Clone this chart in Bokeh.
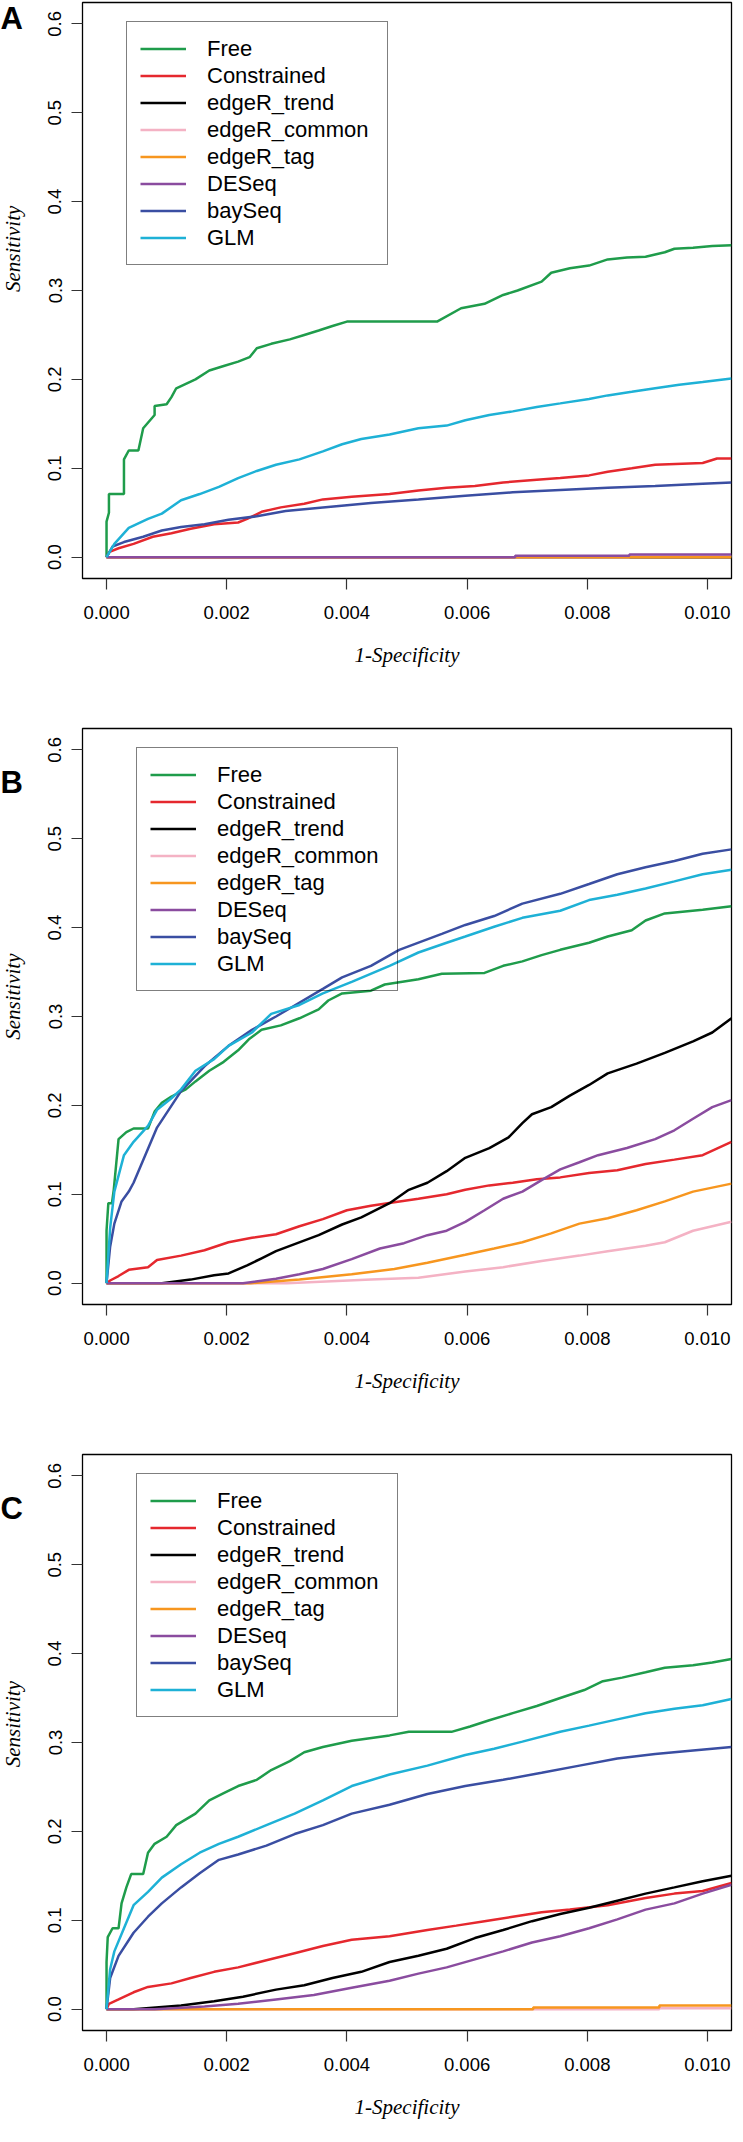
import math
from bokeh.plotting import figure
from bokeh.models import (Range1d, FixedTicker, PrintfTickFormatter, Legend,
                          LegendItem, ColumnDataSource)
from bokeh.core.properties import value
from bokeh.layouts import column, row
from bokeh.embed import file_html
from bokeh.resources import INLINE

# ---------------- data ----------------
X_TICKS = [0.0, 0.002, 0.004, 0.006, 0.008, 0.010]
Y_TICKS = [0.0, 0.1, 0.2, 0.3, 0.4, 0.5, 0.6]
SERIES = ["Free", "Constrained", "edgeR_trend", "edgeR_common",
          "edgeR_tag", "DESeq", "baySeq", "GLM"]
COLORS = ["#1f9c4b", "#e5282e", "#000000", "#f4b2c4",
          "#f7961f", "#8a4c9f", "#3a4ea2", "#1eb1d6"]
PANEL_LETTERS = ["A", "B", "C"]
X_TITLE = "1-Specificity"
Y_TITLE = "Sensitivity"

# Panel A
A_FREE_X = [0, 0, 0.00004, 0.00004, 0.00029, 0.00029, 0.00037, 0.00053, 0.00061, 0.0008,
            0.0008, 0.001, 0.00108, 0.00116, 0.00148, 0.00171, 0.00195, 0.00219, 0.00238, 0.0025,
            0.00274, 0.00305, 0.00329, 0.00353, 0.00376, 0.004, 0.0055, 0.0059, 0.00629, 0.0066,
            0.00684, 0.00724, 0.0074, 0.00771, 0.00803, 0.00834, 0.00866, 0.00897, 0.00929, 0.00945,
            0.00976, 0.01008, 0.0104]
A_FREE_Y = [0, 0.04, 0.05, 0.071, 0.071, 0.11, 0.12, 0.12, 0.145, 0.16,
            0.17, 0.172, 0.18, 0.19, 0.20, 0.21, 0.215, 0.22, 0.225, 0.235,
            0.24, 0.245, 0.25, 0.255, 0.26, 0.265, 0.265, 0.28, 0.285, 0.295,
            0.30, 0.31, 0.32, 0.325, 0.328, 0.335, 0.337, 0.338, 0.343, 0.347,
            0.348, 0.35, 0.351]
A_CON_X = [0, 0.00005, 0.0002, 0.00045, 0.00077, 0.00108, 0.0014, 0.00179, 0.00219, 0.00234,
           0.00258, 0.0029, 0.00329, 0.0036, 0.00408, 0.00471, 0.00519, 0.00566, 0.00613, 0.0066,
           0.00716, 0.00755, 0.00803, 0.00834, 0.00874, 0.00913, 0.00992, 0.01016, 0.0104]
A_CON_Y = [0, 0.006, 0.01, 0.015, 0.023, 0.027, 0.032, 0.037, 0.039, 0.043,
           0.051, 0.056, 0.06, 0.065, 0.068, 0.071, 0.075, 0.078, 0.08, 0.084,
           0.087, 0.089, 0.092, 0.096, 0.1, 0.104, 0.106, 0.111, 0.111]
A_TREND_X = [0, 0.0104]
A_TREND_Y = [0, 0]
A_COM_X = [0, 0.0087, 0.0087, 0.0104]
A_COM_Y = [0, 0, 0.001, 0.001]
A_TAG_X = [0, 0.0104]
A_TAG_Y = [0, 0]
A_DES_X = [0, 0.0068, 0.0068, 0.0087, 0.0087, 0.0104]
A_DES_Y = [0, 0, 0.0015, 0.0015, 0.003, 0.003]
A_BAY_X = [0, 0.0001, 0.00029, 0.00061, 0.00092, 0.00124, 0.00163, 0.00203, 0.0025, 0.00298,
           0.0036, 0.0044, 0.00519, 0.00597, 0.00676, 0.00755, 0.00834, 0.00913, 0.00992, 0.0104]
A_BAY_Y = [0, 0.012, 0.017, 0.023, 0.03, 0.034, 0.037, 0.042, 0.046, 0.052,
           0.056, 0.061, 0.065, 0.069, 0.073, 0.0755, 0.078, 0.08, 0.0827, 0.084]
A_GLM_X = [0, 0.00013, 0.00037, 0.00069, 0.00092, 0.00124, 0.00155, 0.00187, 0.00219, 0.0025,
           0.00282, 0.00321, 0.0036, 0.00392, 0.00424, 0.00471, 0.00519, 0.00566, 0.00597, 0.00637,
           0.00676, 0.00716, 0.00755, 0.00803, 0.00834, 0.00874, 0.00913, 0.00953, 0.00992, 0.0104]
A_GLM_Y = [0, 0.015, 0.033, 0.043, 0.049, 0.064, 0.071, 0.079, 0.089, 0.097,
           0.104, 0.11, 0.119, 0.127, 0.133, 0.138, 0.145, 0.148, 0.154, 0.16,
           0.164, 0.169, 0.173, 0.178, 0.182, 0.186, 0.19, 0.194, 0.197, 0.201]

# Panel B
B_FREE_X = [0, 0, 0.00003, 0.00009, 0.00012, 0.0002, 0.00033, 0.00045, 0.00069, 0.0008,
            0.00092, 0.00108, 0.00132, 0.00148, 0.00171, 0.00195, 0.00219, 0.00238, 0.00258, 0.0029,
            0.00321, 0.00353, 0.00369, 0.00392, 0.0044, 0.00463, 0.00519, 0.00558, 0.00629, 0.0066,
            0.00692, 0.00724, 0.00755, 0.00803, 0.00834, 0.00874, 0.00897, 0.00929, 0.00992, 0.0104]
B_FREE_Y = [0, 0.059, 0.09, 0.09, 0.105, 0.162, 0.17, 0.174, 0.174, 0.193,
            0.203, 0.21, 0.218, 0.227, 0.239, 0.249, 0.262, 0.275, 0.285, 0.29,
            0.298, 0.308, 0.318, 0.326, 0.329, 0.336, 0.342, 0.348, 0.349, 0.357,
            0.362, 0.369, 0.375, 0.383, 0.39, 0.397, 0.408, 0.416, 0.42, 0.424]
B_CON_X = [0, 0.00006, 0.0002, 0.00037, 0.00069, 0.00084, 0.00124, 0.00163, 0.00203, 0.00242,
           0.00282, 0.00321, 0.0036, 0.004, 0.0044, 0.00479, 0.00519, 0.00566, 0.00597, 0.00637,
           0.00676, 0.00716, 0.00755, 0.00803, 0.0085, 0.00897, 0.00945, 0.00992, 0.0104]
B_CON_Y = [0, 0.003, 0.008, 0.015, 0.018, 0.026, 0.031, 0.037, 0.046, 0.051,
           0.055, 0.064, 0.072, 0.082, 0.087, 0.091, 0.095, 0.1, 0.105, 0.11,
           0.113, 0.117, 0.119, 0.124, 0.127, 0.134, 0.139, 0.144, 0.159]
B_TREND_X = [0, 0.00092, 0.0014, 0.00179, 0.00203, 0.00234, 0.00258, 0.00282, 0.00313, 0.00353,
             0.00392, 0.00424, 0.00471, 0.00503, 0.00534, 0.00566, 0.00597, 0.00637, 0.00669, 0.00692,
             0.00708, 0.0074, 0.00771, 0.00803, 0.00834, 0.00882, 0.00929, 0.00976, 0.01008, 0.0104]
B_TREND_Y = [0, 0, 0.004, 0.009, 0.011, 0.02, 0.028, 0.036, 0.044, 0.054,
             0.066, 0.074, 0.09, 0.105, 0.113, 0.126, 0.141, 0.152, 0.164, 0.18,
             0.19, 0.198, 0.211, 0.223, 0.236, 0.247, 0.259, 0.272, 0.282, 0.298]
B_COM_X = [0, 0.003, 0.0044, 0.00519, 0.00597, 0.0066, 0.00724, 0.00787, 0.00834, 0.00897,
           0.00929, 0.00976, 0.01008, 0.0104]
B_COM_Y = [0, 0, 0.004, 0.006, 0.013, 0.018, 0.025, 0.031, 0.036, 0.042,
           0.046, 0.059, 0.064, 0.069]
B_TAG_X = [0, 0.0024, 0.00321, 0.00408, 0.00479, 0.00534, 0.00597, 0.00645, 0.00692, 0.0074,
           0.00787, 0.00834, 0.00882, 0.00929, 0.00976, 0.0104]
B_TAG_Y = [0, 0, 0.004, 0.01, 0.016, 0.023, 0.032, 0.039, 0.046, 0.056,
           0.067, 0.073, 0.082, 0.092, 0.103, 0.112]
B_DES_X = [0, 0.00227, 0.00282, 0.00321, 0.0036, 0.00408, 0.00455, 0.00495, 0.00534, 0.00566,
           0.00597, 0.00629, 0.0066, 0.00692, 0.00724, 0.00755, 0.00787, 0.00818, 0.00866, 0.00913,
           0.00945, 0.00976, 0.01008, 0.0104]
B_DES_Y = [0, 0, 0.005, 0.01, 0.016, 0.027, 0.039, 0.045, 0.054, 0.059,
           0.069, 0.082, 0.095, 0.103, 0.116, 0.128, 0.136, 0.144, 0.152, 0.162,
           0.172, 0.185, 0.198, 0.206]
B_BAY_X = [0, 0.00006, 0.00013, 0.00025, 0.00037, 0.00045, 0.00084, 0.00124, 0.00163, 0.00203,
           0.00242, 0.00282, 0.0036, 0.00392, 0.0044, 0.00487, 0.00558, 0.00597, 0.00645, 0.00692,
           0.00755, 0.00803, 0.0085, 0.00897, 0.00945, 0.00992, 0.0104]
B_BAY_Y = [0, 0.041, 0.067, 0.092, 0.103, 0.113, 0.175, 0.216, 0.244, 0.267,
           0.285, 0.30, 0.331, 0.344, 0.357, 0.375, 0.393, 0.403, 0.413, 0.427,
           0.438, 0.449, 0.46, 0.468, 0.475, 0.483, 0.488]
B_GLM_X = [0, 0.00006, 0.00013, 0.00029, 0.00045, 0.00069, 0.00084, 0.00108, 0.00124, 0.00148,
           0.00179, 0.00203, 0.00242, 0.00274, 0.00321, 0.0036, 0.00408, 0.00471, 0.00519, 0.00566,
           0.00597, 0.00645, 0.00692, 0.00755, 0.00803, 0.0085, 0.00897, 0.00945, 0.00992, 0.0104]
B_GLM_Y = [0, 0.062, 0.103, 0.144, 0.159, 0.177, 0.195, 0.208, 0.218, 0.239,
           0.252, 0.267, 0.282, 0.303, 0.313, 0.326, 0.339, 0.357, 0.372, 0.383,
           0.39, 0.401, 0.411, 0.419, 0.431, 0.437, 0.444, 0.452, 0.46, 0.465]

# Panel C
C_FREE_X = [0, 0, 0.00002, 0.0001, 0.0002, 0.00025, 0.00033, 0.00041, 0.00061, 0.00069,
            0.0008, 0.001, 0.00116, 0.00148, 0.00171, 0.00195, 0.00219, 0.0025, 0.00274, 0.00305,
            0.00329, 0.0036, 0.00408, 0.00471, 0.00503, 0.00574, 0.00605, 0.00637, 0.00676, 0.00716,
            0.00755, 0.00795, 0.00826, 0.00858, 0.00897, 0.00929, 0.00976, 0.01008, 0.0104]
C_FREE_Y = [0, 0.053, 0.081, 0.091, 0.091, 0.119, 0.137, 0.152, 0.152, 0.176,
            0.186, 0.194, 0.207, 0.22, 0.235, 0.243, 0.251, 0.258, 0.269, 0.279,
            0.289, 0.295, 0.302, 0.308, 0.312, 0.312, 0.318, 0.325, 0.333, 0.341,
            0.35, 0.359, 0.369, 0.373, 0.379, 0.384, 0.387, 0.39, 0.394]
C_CON_X = [0, 0.00004, 0.0002, 0.00045, 0.00069, 0.00108, 0.0014, 0.00179, 0.00219, 0.00266,
           0.00313, 0.0036, 0.00408, 0.00471, 0.00534, 0.00582, 0.00629, 0.00676, 0.00724, 0.00771,
           0.00834, 0.00897, 0.00945, 0.00992, 0.0104]
C_CON_Y = [0, 0.006, 0.011, 0.019, 0.025, 0.029, 0.035, 0.042, 0.047, 0.055,
           0.063, 0.071, 0.078, 0.082, 0.089, 0.094, 0.099, 0.104, 0.109, 0.112,
           0.117, 0.125, 0.13, 0.133, 0.142]
C_TREND_X = [0, 0.00045, 0.00124, 0.00179, 0.00227, 0.00282, 0.00329, 0.00376, 0.00424, 0.00471,
             0.00519, 0.00566, 0.00613, 0.0066, 0.00708, 0.00755, 0.00803, 0.0085, 0.00897, 0.00945,
             0.00992, 0.0104]
C_TREND_Y = [0, 0, 0.004, 0.009, 0.014, 0.022, 0.027, 0.035, 0.042, 0.053,
             0.06, 0.068, 0.08, 0.089, 0.099, 0.107, 0.114, 0.122, 0.13, 0.137,
             0.144, 0.15]
C_COM_X = [0, 0.0092, 0.0092, 0.0104]
C_COM_Y = [0, 0, 0.001, 0.001]
C_TAG_X = [0, 0.0071, 0.0071, 0.0092, 0.0092, 0.0104]
C_TAG_Y = [0, 0, 0.002, 0.002, 0.004, 0.004]
C_DES_X = [0, 0.0008, 0.00163, 0.00219, 0.00282, 0.00345, 0.00408, 0.00471, 0.00519, 0.00566,
           0.00613, 0.0066, 0.00708, 0.00755, 0.00803, 0.0085, 0.00897, 0.00945, 0.00992, 0.0104]
C_DES_Y = [0, 0, 0.003, 0.006, 0.011, 0.016, 0.024, 0.032, 0.04, 0.047,
           0.056, 0.065, 0.075, 0.082, 0.091, 0.101, 0.112, 0.119, 0.13, 0.14]
C_BAY_X = [0, 0.00006, 0.0002, 0.00045, 0.00069, 0.00092, 0.00124, 0.00155, 0.00187, 0.00219,
           0.00266, 0.00313, 0.0036, 0.00408, 0.00471, 0.00534, 0.00597, 0.0066, 0.00724, 0.00787,
           0.0085, 0.00913, 0.00976, 0.0104]
C_BAY_Y = [0, 0.035, 0.06, 0.086, 0.104, 0.119, 0.137, 0.153, 0.168, 0.174,
           0.184, 0.197, 0.207, 0.22, 0.23, 0.242, 0.251, 0.258, 0.266, 0.274,
           0.282, 0.287, 0.291, 0.295]
C_GLM_X = [0, 0.00006, 0.00013, 0.00029, 0.00045, 0.00069, 0.00092, 0.00124, 0.00155, 0.00187,
           0.00219, 0.00266, 0.00313, 0.0036, 0.00408, 0.00471, 0.00534, 0.00597, 0.00645, 0.00692,
           0.00755, 0.00803, 0.0085, 0.00897, 0.00945, 0.00992, 0.0104]
C_GLM_Y = [0, 0.045, 0.065, 0.091, 0.117, 0.132, 0.148, 0.163, 0.176, 0.186,
           0.194, 0.207, 0.22, 0.235, 0.251, 0.264, 0.274, 0.286, 0.293, 0.301,
           0.312, 0.319, 0.326, 0.333, 0.338, 0.342, 0.349]

PANEL_DATA = {
    "A": [(A_FREE_X, A_FREE_Y), (A_CON_X, A_CON_Y), (A_TREND_X, A_TREND_Y), (A_COM_X, A_COM_Y),
          (A_TAG_X, A_TAG_Y), (A_DES_X, A_DES_Y), (A_BAY_X, A_BAY_Y), (A_GLM_X, A_GLM_Y)],
    "B": [(B_FREE_X, B_FREE_Y), (B_CON_X, B_CON_Y), (B_TREND_X, B_TREND_Y), (B_COM_X, B_COM_Y),
          (B_TAG_X, B_TAG_Y), (B_DES_X, B_DES_Y), (B_BAY_X, B_BAY_Y), (B_GLM_X, B_GLM_Y)],
    "C": [(C_FREE_X, C_FREE_Y), (C_CON_X, C_CON_Y), (C_TREND_X, C_TREND_Y), (C_COM_X, C_COM_Y),
          (C_TAG_X, C_TAG_Y), (C_DES_X, C_DES_Y), (C_BAY_X, C_BAY_Y), (C_GLM_X, C_GLM_Y)],
}

# ---------------- layout ----------------
TOTAL_W = 735
STRIP_W = 36              # left strip holding the panel letter and y title
MAIN_W = TOTAL_W - STRIP_W
FRAME_H = 576
BORDER_L = 46             # main figure left border (frame at page x 90)
BORDER_R = 4
# (top border, bottom border, legend x offset from frame left)
PANEL_LAYOUT = {"A": (2, 100, 44), "B": (50, 100, 54), "C": (50, 96, 54)}

LEG_PAD = 13
LEG_ITEM_H = 27
LEG_SPACING = 0
X_MIN, X_MAX = -0.0004, 0.0104
Y_MIN, Y_MAX = -0.024, 0.624


def make_strip(letter, top, bottom):
    h = top + FRAME_H + bottom
    s = figure(width=STRIP_W, height=h, x_range=Range1d(0, STRIP_W),
               y_range=Range1d(0, h), output_backend="svg",
               toolbar_location=None, tools="",
               x_axis_location=None, y_axis_location=None,
               min_border_left=0, min_border_right=0,
               min_border_top=0, min_border_bottom=0)
    s.outline_line_color = None
    s.xgrid.visible = False
    s.ygrid.visible = False
    s.background_fill_color = "white"
    s.border_fill_color = "white"
    # panel letter, its cap top close to the frame top
    s.text(x=[0], y=[h - top + 4], text=[letter],
           text_font=value("Liberation Sans"), text_font_style="bold",
           text_font_size="31px", text_align="left", text_baseline="top",
           text_color="black")
    # y axis title, centred on the frame
    s.text(x=[12], y=[h - top - FRAME_H / 2], text=[Y_TITLE], angle=math.pi / 2,
           text_font=value("Liberation Serif"), text_font_style="italic",
           text_font_size="21px", text_align="center", text_baseline="middle",
           text_color="black")
    return s


def make_panel(letter):
    top, bottom, leg_dx = PANEL_LAYOUT[letter]
    p = figure(width=MAIN_W, height=top + FRAME_H + bottom,
               x_range=Range1d(X_MIN, X_MAX), y_range=Range1d(Y_MIN, Y_MAX),
               output_backend="svg", toolbar_location=None, tools="",
               min_border_left=BORDER_L, min_border_right=BORDER_R,
               min_border_top=top, min_border_bottom=bottom)
    p.xgrid.visible = False
    p.ygrid.visible = False
    p.outline_line_color = "black"
    p.outline_line_width = 1.3
    p.background_fill_color = "white"
    p.border_fill_color = "white"

    p.xaxis.ticker = FixedTicker(ticks=X_TICKS)
    p.yaxis.ticker = FixedTicker(ticks=Y_TICKS)
    p.xaxis.formatter = PrintfTickFormatter(format="%.3f")
    p.yaxis.formatter = PrintfTickFormatter(format="%.1f")
    for ax in (p.xaxis, p.yaxis):
        ax.axis_line_color = None
        ax.major_tick_out = 11
        ax.major_tick_in = 0
        ax.major_tick_line_color = "#333333"
        ax.major_tick_line_width = 1.2
        ax.minor_tick_line_color = None
        ax.major_label_text_font = "Liberation Sans"
        ax.major_label_text_font_size = "18.5px"
        ax.major_label_text_color = "black"
    p.xaxis.axis_label = X_TITLE
    p.xaxis.axis_label_text_font = "Liberation Serif"
    p.xaxis.axis_label_text_font_style = "italic"
    p.xaxis.axis_label_text_font_size = "21px"
    p.xaxis.axis_label_text_color = "black"
    p.xaxis.major_label_standoff = 16
    p.xaxis.axis_label_standoff = 21
    p.yaxis.major_label_standoff = 10
    p.yaxis.major_label_orientation = "vertical"

    items = []
    for name, color, (xs, ys) in zip(SERIES, COLORS, PANEL_DATA[letter]):
        src = ColumnDataSource(data=dict(x=xs, y=ys))
        r = p.line("x", "y", source=src, line_color=color, line_width=2.5)
        items.append(LegendItem(label=name, renderers=[r]))

    n = len(items)
    leg_h = 2 * LEG_PAD + n * LEG_ITEM_H + (n - 1) * LEG_SPACING
    # legend top aligned with the 0.6 tick
    top_of_06 = FRAME_H * (Y_MAX - 0.6) / (Y_MAX - Y_MIN)
    leg_vy = int(round(FRAME_H - top_of_06 - leg_h))
    legend = Legend(items=items, location=(leg_dx, leg_vy),
                    border_line_color="black", border_line_width=1.3,
                    background_fill_alpha=0.0,
                    padding=LEG_PAD, spacing=LEG_SPACING, margin=0,
                    glyph_width=46, glyph_height=LEG_ITEM_H,
                    label_height=LEG_ITEM_H, label_width=167,
                    label_standoff=21,
                    label_text_font="Liberation Sans",
                    label_text_font_size="22px",
                    label_text_color="black",
                    label_text_baseline="middle")
    p.add_layout(legend)
    return p


rows = []
for L in PANEL_LETTERS:
    top, bottom, _ = PANEL_LAYOUT[L]
    rows.append(row(make_strip(L, top, bottom), make_panel(L), spacing=0))
layout = column(*rows, spacing=0)

open("out.html", "w").write(file_html(layout, INLINE))
